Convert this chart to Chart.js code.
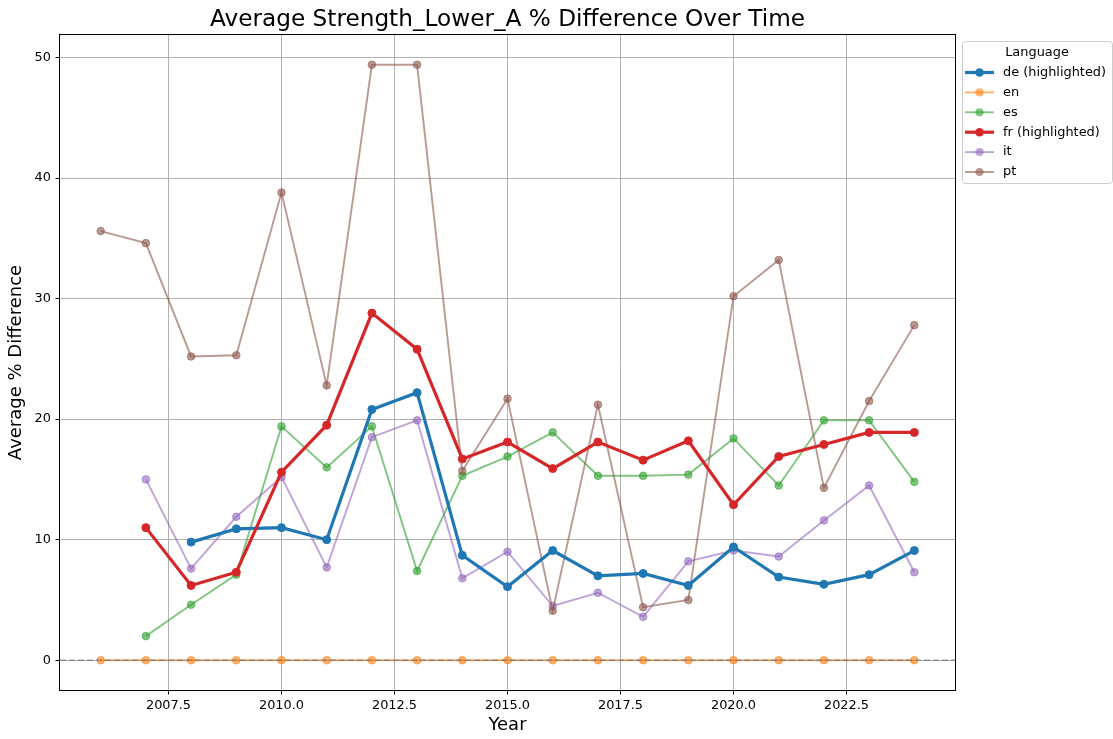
<!DOCTYPE html>
<html><head><meta charset="utf-8">
<script src="https://cdn.jsdelivr.net/npm/chart.js@4.4.1/dist/chart.umd.min.js"></script>
<style>html,body{margin:0;padding:0;background:#fff;overflow:hidden}#wrap{width:1113px;height:739px;position:relative}</style>
</head><body><div id="wrap"><canvas id="c" width="1113" height="739"></canvas></div>
<script>
// ---- data ----
const years = [2006, 2007, 2008, 2009, 2010, 2011, 2012, 2013, 2014, 2015, 2016, 2017, 2018, 2019, 2020, 2021, 2022, 2023, 2024];
const deVals = [null, null, 9.8, 10.9, 11.0, 10.0, 20.8, 22.2, 8.7, 6.1, 9.1, 7.0, 7.2, 6.2, 9.4, 6.9, 6.3, 7.1, 9.1];
const enVals = [0, 0, 0, 0, 0, 0, 0, 0, 0, 0, 0, 0, 0, 0, 0, 0, 0, 0, 0];
const esVals = [null, 2.0, 4.6, 7.1, 19.4, 16.0, 19.4, 7.4, 15.3, 16.9, 18.9, 15.3, 15.3, 15.4, 18.4, 14.5, 19.9, 19.9, 14.8];
const frVals = [null, 11.0, 6.2, 7.3, 15.6, 19.5, 28.8, 25.8, 16.7, 18.1, 15.9, 18.1, 16.6, 18.2, 12.9, 16.9, 17.9, 18.9, 18.9];
const itVals = [null, 15.0, 7.6, 11.9, 15.2, 7.7, 18.5, 19.9, 6.8, 9.0, 4.5, 5.6, 3.6, 8.2, 9.1, 8.6, 11.6, 14.5, 7.3];
const ptVals = [35.6, 34.6, 25.2, 25.3, 38.8, 22.8, 49.4, 49.4, 15.7, 21.7, 4.1, 21.2, 4.4, 5.0, 30.2, 33.2, 14.3, 21.5, 27.8];
const seriesLabels = ['de (highlighted)', 'en', 'es', 'fr (highlighted)', 'it', 'pt'];
const xTickVals = [2007.5, 2010.0, 2012.5, 2015.0, 2017.5, 2020.0, 2022.5];
const yTickVals = [0, 10, 20, 30, 40, 50];
const chartTitle = 'Average Strength_Lower_A % Difference Over Time';
const xTitle = 'Year';
const yTitle = 'Average % Difference';
const legendTitle = 'Language';

// ---- styling ----
const FONT = "'DejaVu Sans', sans-serif";
const seriesVals = [deVals, enVals, esVals, frVals, itVals, ptVals];
const rgb = ['31,119,180', '255,127,14', '44,160,44', '214,39,40', '148,103,189', '140,86,75'];
const highlighted = [true, false, false, true, false, false];
const orders = [1, 9, 8, 0, 6, 5];

function pts(vals) {
  const out = [];
  years.forEach((y, i) => { if (vals[i] !== null) out.push({x: y, y: vals[i]}); });
  return out;
}
function col(i) { return 'rgba(' + rgb[i] + ',' + (highlighted[i] ? 1 : 0.6) + ')'; }

const datasets = seriesLabels.map((lab, i) => ({
  label: lab,
  data: pts(seriesVals[i]),
  borderColor: col(i), backgroundColor: col(i),
  pointBackgroundColor: col(i), pointBorderColor: col(i),
  borderWidth: highlighted[i] ? 3.2 : 1.9,
  pointRadius: highlighted[i] ? 4.0 : 3.8,
  pointHoverRadius: highlighted[i] ? 4.0 : 3.8,
  pointBorderWidth: 1,
  tension: 0,
  order: orders[i]
}));

const decor = {
  id: 'decor',
  afterDatasetsDraw(chart) {
    const ctx = chart.ctx, a = chart.chartArea, ys = chart.scales.y;
    // zero reference line
    const y0 = ys.getPixelForValue(0);
    ctx.save();
    ctx.strokeStyle = 'rgba(128,128,128,0.8)';
    ctx.lineWidth = 1.3;
    ctx.setLineDash([6, 3]);
    ctx.beginPath(); ctx.moveTo(a.left, y0); ctx.lineTo(a.right, y0); ctx.stroke();
    ctx.setLineDash([]);
    // spines
    ctx.strokeStyle = '#000'; ctx.lineWidth = 1;
    ctx.strokeRect(Math.round(a.left) - 0.5, Math.round(a.top) - 0.5, Math.round(a.right - a.left) + 1, Math.round(a.bottom - a.top) + 1);
    ctx.restore();
  },
  afterDraw(chart) {
    const ctx = chart.ctx, a = chart.chartArea;
    ctx.save();
    // title
    ctx.fillStyle = '#000';
    ctx.font = '23.2px ' + FONT;
    ctx.textAlign = 'center'; ctx.textBaseline = 'middle';
    ctx.fillText(chartTitle, (a.left + a.right) / 2, 20);
    // legend
    const bx = 962.5, by = 41.5, bw = 150, bh = 142, r = 3;
    ctx.beginPath();
    ctx.moveTo(bx + r, by); ctx.lineTo(bx + bw - r, by); ctx.quadraticCurveTo(bx + bw, by, bx + bw, by + r);
    ctx.lineTo(bx + bw, by + bh - r); ctx.quadraticCurveTo(bx + bw, by + bh, bx + bw - r, by + bh);
    ctx.lineTo(bx + r, by + bh); ctx.quadraticCurveTo(bx, by + bh, bx, by + bh - r);
    ctx.lineTo(bx, by + r); ctx.quadraticCurveTo(bx, by, bx + r, by); ctx.closePath();
    ctx.fillStyle = 'rgba(255,255,255,0.8)'; ctx.fill();
    ctx.strokeStyle = '#cccccc'; ctx.lineWidth = 1; ctx.stroke();
    ctx.font = '12.9px ' + FONT;
    ctx.fillStyle = '#000'; ctx.textAlign = 'center';
    ctx.fillText(legendTitle, 1037, 53);
    ctx.textAlign = 'left';
    seriesLabels.forEach((lab, i) => {
      const y = 72.5 + i * 19.9;
      ctx.strokeStyle = col(i); ctx.fillStyle = col(i);
      ctx.lineWidth = highlighted[i] ? 3.2 : 1.9;
      ctx.beginPath(); ctx.moveTo(965, y); ctx.lineTo(994, y); ctx.stroke();
      ctx.beginPath(); ctx.arc(979.5, y, highlighted[i] ? 4.3 : 4.1, 0, Math.PI * 2); ctx.fill();
      ctx.fillStyle = '#000';
      ctx.fillText(lab, 1003, y);
    });
    ctx.restore();
  }
};

new Chart(document.getElementById('c'), {
  type: 'line',
  data: {datasets},
  plugins: [decor],
  options: {
    responsive: false, animation: false, devicePixelRatio: 1,
    layout: {padding: {left: 0, right: 158, top: 35, bottom: 0}},
    plugins: {legend: {display: false}, tooltip: {enabled: false}, title: {display: false}},
    scales: {
      x: {
        type: 'linear', min: 2005.1, max: 2024.9,
        afterBuildTicks: s => { s.ticks = xTickVals.map(v => ({value: v})); },
        afterFit: s => { s.height = 49; },
        ticks: {callback: v => Number(v).toFixed(1), font: {family: FONT, size: 12.9}, color: '#000', padding: 3.5, maxRotation: 0, autoSkip: false},
        grid: {color: '#b0b0b0', lineWidth: 1, tickLength: 4.5, tickColor: '#000'},
        border: {display: false},
        title: {display: true, text: xTitle, color: '#000', font: {family: FONT, size: 18}, padding: {top: 0, bottom: 3}}
      },
      y: {
        type: 'linear', min: -2.47, max: 51.87,
        afterBuildTicks: s => { s.ticks = yTickVals.map(v => ({value: v})); },
        afterFit: s => { s.width = 60; },
        ticks: {callback: v => String(v), font: {family: FONT, size: 12.9}, color: '#000', padding: 4.5, autoSkip: false},
        grid: {color: '#b0b0b0', lineWidth: 1, tickLength: 4.5, tickColor: '#000'},
        border: {display: false},
        title: {display: true, text: yTitle, color: '#000', font: {family: FONT, size: 18}, padding: {top: 6, bottom: 0}}
      }
    }
  }
});
</script></body></html>
